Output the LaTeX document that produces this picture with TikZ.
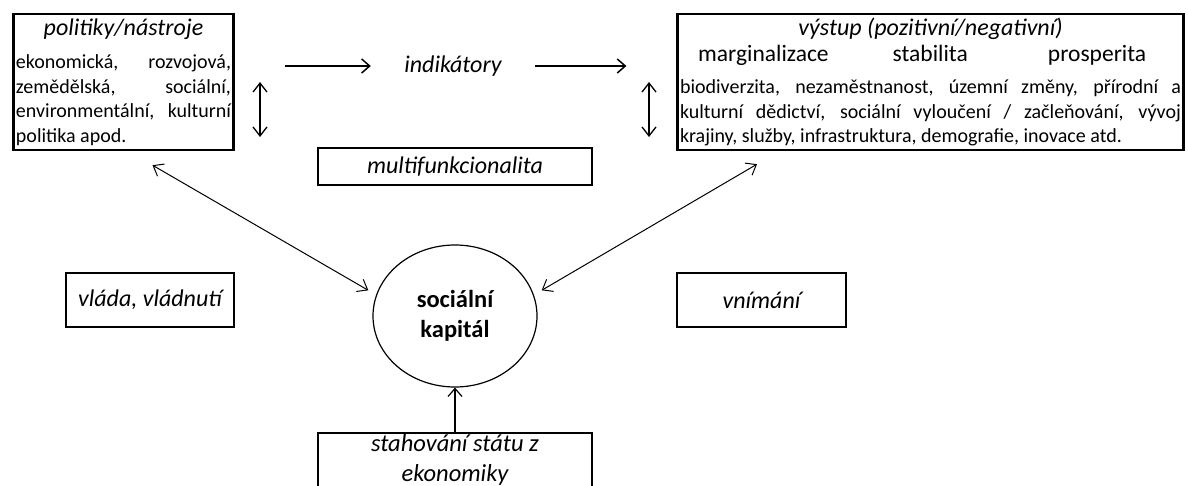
\documentclass[tikz,border=0pt]{standalone}
\usepackage{fontspec}
\setmainfont{Carlito}
\usetikzlibrary{arrows.meta, shapes.geometric, positioning}

\newcommand{\bodytext}{\fontsize{20}{24.5}\selectfont}
\newcommand{\bigtext}{\fontsize{24}{26}\selectfont}
\newcommand{\rowtext}{\fontsize{23.5}{26}\selectfont}
\newcommand{\captext}{\fontsize{24.5}{30}\selectfont}

\begin{document}
\begin{tikzpicture}[
    x=1pt, y=-1pt,
    box/.style={rectangle, draw=black, line width=2.2pt, inner sep=2.5pt, font=\bodytext},
    tagbox/.style={box, font=\bigtext\itshape},
    ring/.style={ellipse, draw=black, line width=1.2pt, minimum width=164pt, minimum height=142pt, inner sep=0pt, font=\captext\bfseries, align=center},
    arrow/.style={-{Straight Barb[length=8pt,width=14pt]}, line width=1.5pt},
    dbl/.style={{Straight Barb[length=9pt,width=14pt]}-{Straight Barb[length=9pt,width=14pt]}, line width=1pt}
]
\clip (0,0) rectangle (1188,486);

% Uzly
\node[box, text width=215pt, align=justify, minimum height=136pt, anchor=north] (pol) at (123.5,13) {
    {\bigtext\itshape\centering politiky/nástroje\par}
    \vspace{8.5pt}
    ekonomická,\hfill rozvojová,\\
    zemědělská,\hfill sociální,\\
    environmentální,\hfill kulturní\\
    politika apod.};
\node[box, text width=501pt, align=justify, minimum height=136pt, anchor=north] (out) at (930.5,13) {
    \pretolerance=10000
    {\bigtext\itshape\centering výstup (pozitivní/negativní)\par}
    {\rowtext\makebox[.333\linewidth]{marginalizace}\makebox[.333\linewidth]{stabilita}\makebox[.333\linewidth]{prosperita}\par}
    \vspace{7.5pt}
    biodiverzita, nezaměstnanost, územní změny, přírodní a\linebreak
    kulturní dědictví, sociální vyloučení / začleňování, vývoj\linebreak
    krajiny, služby, infrastruktura, demografie, inovace atd.};
\node[font=\bigtext\itshape] (ind) at (453,66) {indikátory};
\node[tagbox, minimum width=274pt, minimum height=37pt] (mf) at (455,166.5) {multifunkcionalita};
\node[tagbox, minimum width=168pt, minimum height=54pt] (vlada) at (150,300) {vláda, vládnutí};
\node[tagbox, minimum width=169pt, minimum height=54pt] (vnim) at (761.5,300) {vnímání};
\node[ring] (kap) at (455,316) {sociální\\kapitál};
\node[tagbox, font=\captext\itshape, align=center, inner sep=0.5pt, minimum width=274pt, minimum height=54pt, anchor=north] (sta) at (455,432) {stahování státu z\\ekonomiky};
\coordinate (lup) at (260,82);
\coordinate (ldown) at (260,137);
\coordinate (rup) at (649,82);
\coordinate (rdown) at (649,137);

% Sipky
\draw[arrow, shorten <=50pt, shorten >=30pt] (pol.east |- ind.west) -- (ind.west);
\draw[arrow, shorten <=30pt, shorten >=50pt] (ind.east) -- (ind.east -| out.west);
\draw[dbl, line width=1.3pt] (lup) -- (ldown);
\draw[dbl, line width=1.3pt] (rup) -- (rdown);
\draw[dbl, shorten >=9pt] ([xshift=29pt,yshift=-14pt]pol.south) -- (kap.165);
\draw[dbl, shorten >=9pt] ([xshift=-173.5pt,yshift=-13pt]out.south) -- (kap.15);
\draw[arrow, line width=1.2pt] (sta) -- (kap);

\end{tikzpicture}
\end{document}
